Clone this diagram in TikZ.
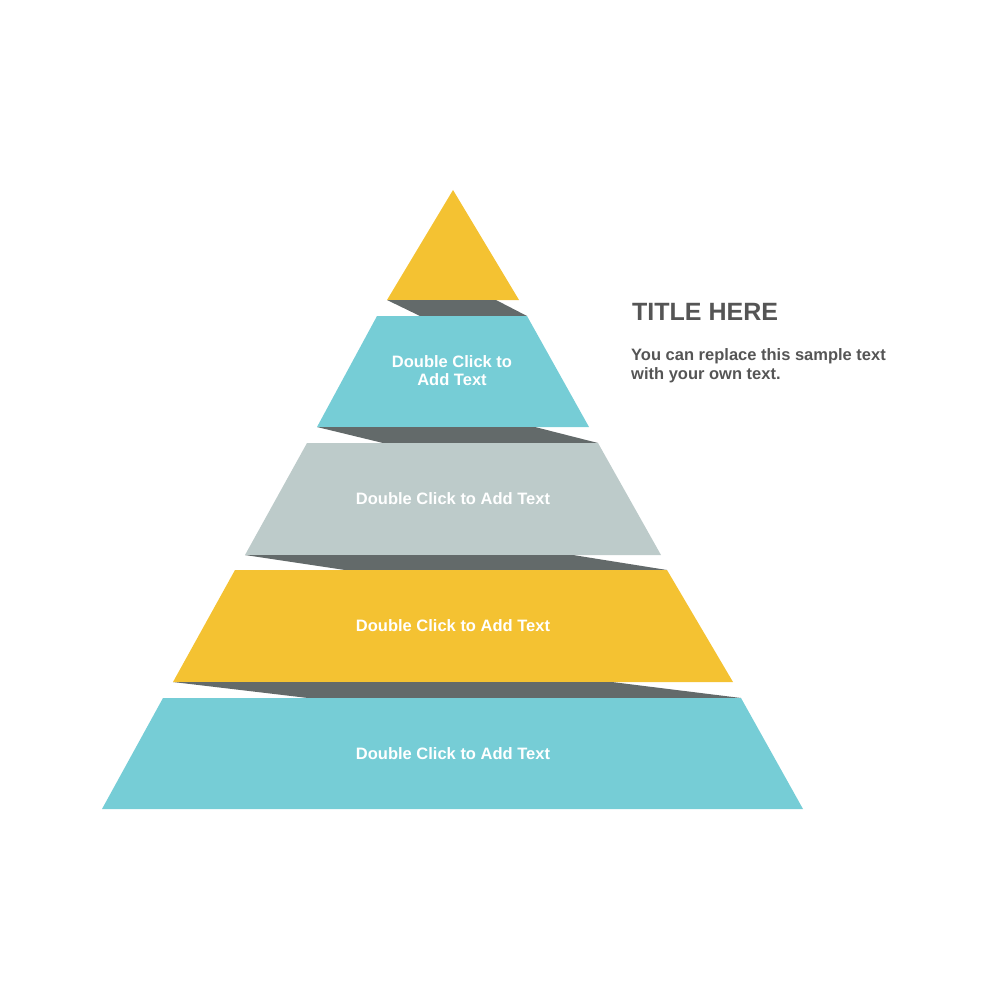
\documentclass[tikz,border=0pt]{standalone}
\usepackage{fontspec}
\setmainfont{Liberation Sans}
\definecolor{ylw}{HTML}{F4C232}
\definecolor{teal}{HTML}{76CDD6}
\definecolor{lgray}{HTML}{BDCBCA}
\definecolor{dgray}{HTML}{636A6A}
\definecolor{txtgray}{HTML}{555555}
\tikzset{
  blocktext/.style={text=white, font=\bfseries\fontsize{16.5}{18}\selectfont, inner sep=0pt, align=center},
  fold/.style={fill=dgray},
}
\begin{document}
\begin{tikzpicture}[x=1pt,y=-1pt]
\useasboundingbox (0,0) rectangle (1000,1000);
% top triangle
\fill[ylw] (453,190) -- (519,300) -- (387,300) -- cycle;
\fill[fold] (387,300) -- (496,300) -- (527,316) -- (420,316) -- cycle;
% block 2
\fill[teal] (377,316) -- (527,316) -- (589,427) -- (317,427) -- cycle;
\fill[fold] (317,427) -- (535,427) -- (598,443) -- (383,443) -- cycle;
% block 3
\fill[lgray] (307,443) -- (598,443) -- (661,555) -- (245,555) -- cycle;
\fill[fold] (245,555) -- (573,555) -- (667,570) -- (345,570) -- cycle;
% block 4
\fill[ylw] (235,570) -- (667,570) -- (733,682) -- (173,682) -- cycle;
\fill[fold] (173,682) -- (612,682) -- (741,698) -- (308,698) -- cycle;
% block 5
\fill[teal] (163,698) -- (741,698) -- (803,809) -- (102,809) -- cycle;
% texts
\node[blocktext] (t2) at (452,371) {Double Click to\\Add Text};
\node[blocktext, anchor=base] (t3) at (453,504) {Double Click to Add Text};
\node[blocktext, anchor=base] (t4) at (453,631) {Double Click to Add Text};
\node[blocktext, anchor=base] (t5) at (453,759) {Double Click to Add Text};
\node[anchor=base west, inner sep=0pt, text=txtgray, font=\bfseries\fontsize{25}{30}\selectfont] (title) at (632,320) {TITLE HERE};
\node[anchor=base west, inner sep=0pt, text=txtgray, font=\bfseries\fontsize{16.5}{19.5}\selectfont] (body1) at (631,360) {You can replace this sample text};
\node[anchor=base west, inner sep=0pt, text=txtgray, font=\bfseries\fontsize{16.5}{19.5}\selectfont] (body2) at (631,379.5) {with your own text.};
\end{tikzpicture}
\end{document}
